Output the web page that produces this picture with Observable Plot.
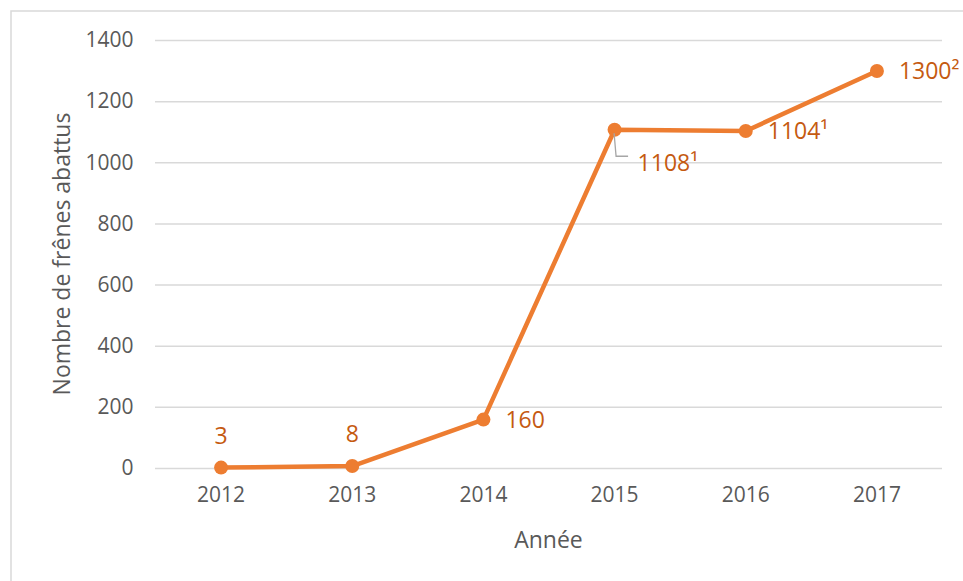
<!DOCTYPE html>
<html><head><meta charset="utf-8">
<script src="https://cdn.jsdelivr.net/npm/d3@7"></script>
<script src="https://cdn.jsdelivr.net/npm/@observablehq/plot@0.6"></script>
<style>
html,body{margin:0;padding:0;background:#fff;}
#chart{width:963px;height:581px;overflow:hidden;}
svg{font-family:"Open Sans",Lato,sans-serif;}
</style></head>
<body><div id="chart"></div>
<script>
const years = ["2012","2013","2014","2015","2016","2017"];
const values = [3, 8, 160, 1108, 1104, 1300];
const valueLabels = ["3","8","160","1108¹","1104¹","1300²"];
const yTicks = [0, 200, 400, 600, 800, 1000, 1200, 1400];
const yTitle = "Nombre de frênes abattus";
const xTitle = "Année";

const data = years.map((y, i) => ({year: y, value: values[i], label: valueLabels[i]}));
const lineColor = "#ED7D31";
const labelColor = "#C55A11";
const textColor = "#595959";
const font = "'Open Sans', Lato, sans-serif";

const above = data.filter(d => d.year === "2012" || d.year === "2013");
const right = data.filter(d => d.year === "2014" || d.year === "2016" || d.year === "2017");
const leader = data.filter(d => d.year === "2015");

const plot = Plot.plot({
  width: 963, height: 581,
  marginLeft: 155, marginRight: 21, marginTop: 40, marginBottom: 113,
  style: {fontFamily: font, fontSize: "21px", color: textColor, background: "#fff"},
  x: {type: "point", domain: years, padding: 0.5, round: false, label: null, tickSize: 0, tickPadding: 20},
  y: {domain: [0, 1400], ticks: yTicks, label: null, tickSize: 0, tickPadding: 22, tickFormat: d => String(d)},
  marks: [
    Plot.gridY(yTicks, {stroke: "#d9d9d9", strokeOpacity: 1, strokeWidth: 1.5}),
    Plot.axisX({tickSize: 0, tickPadding: 19, fill: textColor, fontSize: 21, label: null}),
    Plot.axisY(yTicks, {tickSize: 0, tickPadding: 22, fill: textColor, fontSize: 21, label: null, tickFormat: d => String(d)}),
    Plot.line(data, {x: "year", y: "value", stroke: lineColor, strokeWidth: 4.5}),
    Plot.dot(data, {x: "year", y: "value", fill: lineColor, r: 7, stroke: null}),
    Plot.text(above, {x: "year", y: "value", text: "label", fill: labelColor, fontSize: 23, dy: -31}),
    Plot.text(right, {x: "year", y: "value", text: "label", fill: labelColor, fontSize: 23, dx: 22, textAnchor: "start", dy: 1}),
    Plot.text(leader, {x: "year", y: "value", text: "label", fill: labelColor, fontSize: 23, dx: 23, dy: 34, textAnchor: "start"})
  ]
});

const svg = d3.select(plot);
svg.insert("rect", ":first-child").attr("x", 11).attr("y", 11).attr("width", 1000).attr("height", 1000)
  .attr("fill", "none").attr("stroke", "#d9d9d9").attr("stroke-width", 1.5);
const sx = plot.scale("x"), sy = plot.scale("y");
leader.forEach(d => {
  const px = sx.apply(d.year), py = sy.apply(d.value);
  svg.append("path").attr("d", `M${px},${py+4} L${px+2},${py+27} L${px+14},${py+27}`)
    .attr("fill", "none").attr("stroke", "#a6a6a6").attr("stroke-width", 1.3);
});
const y0 = sy.apply(0), y1 = sy.apply(1400);
svg.append("text").attr("transform", `translate(70,${(y0 + y1) / 2}) rotate(-90)`)
  .attr("text-anchor", "middle").attr("fill", textColor).attr("font-size", 23).attr("font-family", font).text(yTitle);
svg.append("text").attr("x", (155 + 942) / 2).attr("y", 548)
  .attr("text-anchor", "middle").attr("fill", textColor).attr("font-size", 23).attr("font-family", font).text(xTitle);

document.getElementById("chart").appendChild(plot);
</script>
</body></html>
